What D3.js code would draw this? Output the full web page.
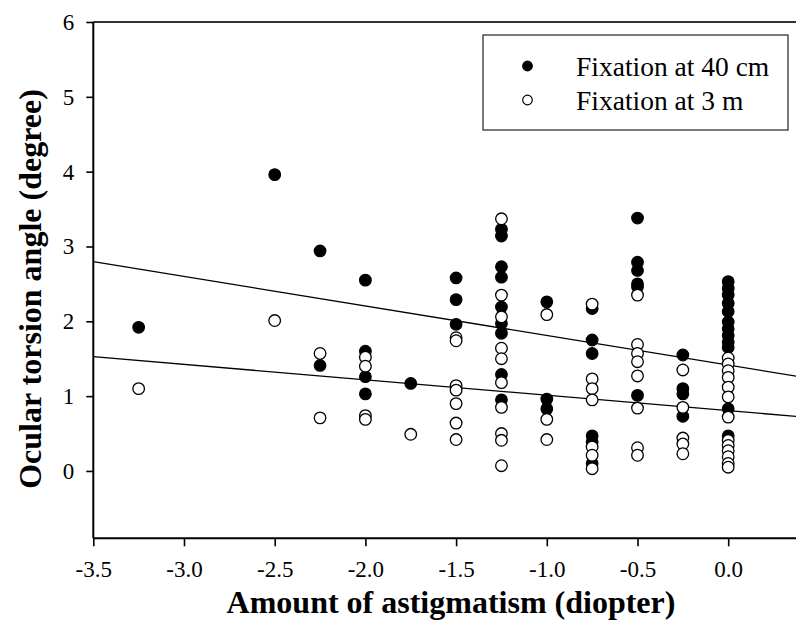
<!DOCTYPE html>
<html>
<head>
<meta charset="utf-8">
<script src="https://cdn.jsdelivr.net/npm/d3@7"></script>
<style>
  html, body { margin: 0; padding: 0; background: #fff; }
  svg { display: block; }
  text { font-family: "Liberation Serif", "Times New Roman", serif; fill: #000; }
</style>
</head>
<body>
<svg id="chart" width="796" height="621"></svg>
<script>
// ---- Data ----
const seriesNames = ["Fixation at 40 cm", "Fixation at 3 m"];

// Fixation at 40 cm (filled circles)
const near_x = [
  -3.25,
  -2.5,
  -2.25, -2.25,
  -2.0, -2.0, -2.0, -2.0,
  -1.75,
  -1.5, -1.5, -1.5,
  -1.25, -1.25, -1.25, -1.25, -1.25, -1.25, -1.25, -1.25, -1.25,
  -1.0, -1.0, -1.0,
  -0.75, -0.75, -0.75, -0.75, -0.75, -0.75,
  -0.5, -0.5, -0.5, -0.5, -0.5, -0.5,
  -0.25, -0.25, -0.25, -0.25,
  0, 0, 0, 0, 0, 0, 0, 0, 0, 0, 0, 0
];
const near_y = [
  1.92,
  3.96,
  2.94, 1.41,
  2.55, 1.60, 1.26, 1.03,
  1.17,
  2.58, 2.29, 1.96,
  3.23, 3.14, 2.73, 2.59, 2.19, 1.97, 1.84, 1.29, 0.95,
  2.26, 0.96, 0.83,
  2.17, 1.75, 1.57, 0.47, 0.39, 0.10,
  3.38, 2.79, 2.68, 2.50, 2.46, 1.01,
  1.55, 1.10, 1.03, 0.73,
  2.53, 2.44, 2.35, 2.24, 2.13, 1.99, 1.90, 1.81, 1.72, 1.65, 0.83, 0.47
];

// Fixation at 3 m (open circles)
const far_x = [
  -3.25,
  -2.5,
  -2.25, -2.25,
  -2.0, -2.0, -2.0, -2.0,
  -1.75,
  -1.5, -1.5, -1.5, -1.5, -1.5, -1.5, -1.5,
  -1.25, -1.25, -1.25, -1.25, -1.25, -1.25, -1.25, -1.25, -1.25, -1.25,
  -1.0, -1.0, -1.0,
  -0.75, -0.75, -0.75, -0.75, -0.75, -0.75, -0.75,
  -0.5, -0.5, -0.5, -0.5, -0.5, -0.5, -0.5, -0.5,
  -0.25, -0.25, -0.25, -0.25, -0.25,
  0, 0, 0, 0, 0, 0, 0, 0, 0, 0, 0, 0, 0
];
const far_y = [
  1.10,
  2.01,
  1.57, 0.71,
  1.52, 1.40, 0.74, 0.69,
  0.49,
  1.78, 1.74, 1.14, 1.08, 0.90, 0.64, 0.42,
  3.37, 2.35, 2.06, 1.64, 1.50, 1.18, 0.85, 0.50, 0.41, 0.07,
  2.09, 0.69, 0.42,
  2.23, 1.23, 1.10, 0.95, 0.32, 0.21, 0.03,
  2.35, 1.69, 1.57, 1.46, 1.27, 0.84, 0.31, 0.21,
  1.35, 0.85, 0.44, 0.36, 0.23,
  1.51, 1.43, 1.34, 1.25, 1.12, 0.99, 0.72, 0.41, 0.34, 0.27, 0.19, 0.10, 0.05
];

// Regression lines: [intercept, slope]
const near_fit = [1.415, -0.395];
const far_fit = [0.806, -0.206];

const xTicks = [-3.5, -3.0, -2.5, -2.0, -1.5, -1.0, -0.5, 0.0];
const xTickLabels = ["-3.5", "-3.0", "-2.5", "-2.0", "-1.5", "-1.0", "-0.5", "0.0"];
const yTicks = [0, 1, 2, 3, 4, 5, 6];
const yTickLabels = ["0", "1", "2", "3", "4", "5", "6"];
const xDomain = [-3.5, 0.5];
const yDomain = [-0.9, 6];

const xTitle = "Amount of astigmatism (diopter)";
const yTitle = "Ocular torsion angle (degree)";

// ---- Drawing ----
(function () {
const W = 796, H = 621;
const svg = d3.select("#chart");

const x = d3.scaleLinear().domain(xDomain).range([93.3, 818.9]);
const y = d3.scaleLinear().domain(yDomain).range([538.3, 22]);

const plotLeft = x(xDomain[0]), plotBottom = y(yDomain[0]), plotTop = y(yDomain[1]);

// frame top line
svg.append("line")
  .attr("x1", plotLeft).attr("x2", W + 5)
  .attr("y1", plotTop).attr("y2", plotTop)
  .attr("stroke", "#333").attr("stroke-width", 1.8);

// axes
const xAxis = d3.axisBottom(x).tickValues(xTicks)
  .tickFormat((d, i) => xTickLabels[i])
  .tickSizeInner(8).tickSizeOuter(0).tickPadding(14);
const yAxis = d3.axisLeft(y).tickValues(yTicks)
  .tickFormat((d, i) => yTickLabels[i])
  .tickSizeInner(7).tickSizeOuter(0).tickPadding(12);

const gx = svg.append("g").attr("transform", `translate(0,${plotBottom})`).call(xAxis);
const gy = svg.append("g").attr("transform", `translate(${plotLeft},0)`).call(yAxis);

[gx, gy].forEach(g => {
  g.select(".domain").attr("stroke", "#000").attr("stroke-width", 2);
  g.selectAll(".tick line").attr("stroke", "#000").attr("stroke-width", 1.6);
  g.selectAll(".tick text")
    .attr("font-family", "'Liberation Serif', 'Times New Roman', serif")
    .attr("font-size", 23).attr("fill", "#000");
});
gx.select(".domain").attr("d", `M${plotLeft},0H${W + 5}`);
gy.select(".domain").attr("d", `M0,${plotTop}V${plotBottom}`);

// regression lines
const line = d3.line().x(d => x(d[0])).y(d => y(d[1]));
[near_fit, far_fit].forEach(f => {
  const pts = xDomain.map(v => [v, f[0] + f[1] * v]);
  svg.append("path").attr("d", line(pts))
    .attr("fill", "none").attr("stroke", "#000").attr("stroke-width", 1.3);
});

// points
const R = 5.8;
svg.append("g").selectAll("circle")
  .data(d3.zip(near_x, near_y)).join("circle")
  .attr("cx", d => x(d[0])).attr("cy", d => y(d[1])).attr("r", R)
  .attr("fill", "#000").attr("stroke", "#000").attr("stroke-width", 1.2);
svg.append("g").selectAll("circle")
  .data(d3.zip(far_x, far_y)).join("circle")
  .attr("cx", d => x(d[0])).attr("cy", d => y(d[1])).attr("r", R)
  .attr("fill", "#fff").attr("stroke", "#000").attr("stroke-width", 1.3);

// axis titles
svg.append("text")
  .attr("x", 451).attr("y", 613)
  .attr("text-anchor", "middle")
  .attr("font-size", 32).attr("font-weight", "bold")
  .text(xTitle);
svg.append("text")
  .attr("transform", "translate(41,289) rotate(-90)")
  .attr("text-anchor", "middle")
  .attr("font-size", 32).attr("font-weight", "bold")
  .text(yTitle);

// legend
const lg = svg.append("g");
lg.append("rect")
  .attr("x", 483).attr("y", 35).attr("width", 305).attr("height", 95)
  .attr("fill", "#fff").attr("stroke", "#333").attr("stroke-width", 1.3);
const legRows = [
  { name: seriesNames[0], fill: "#000", cy: 66 },
  { name: seriesNames[1], fill: "#fff", cy: 100 }
];
legRows.forEach(r => {
  lg.append("circle").attr("cx", 527.5).attr("cy", r.cy).attr("r", 4.8)
    .attr("fill", r.fill).attr("stroke", "#000").attr("stroke-width", 1.2);
  lg.append("text").attr("x", 576).attr("y", r.cy).attr("dy", "0.35em")
    .attr("font-size", 27.5).text(r.name);
});
})();
</script>
</body>
</html>
